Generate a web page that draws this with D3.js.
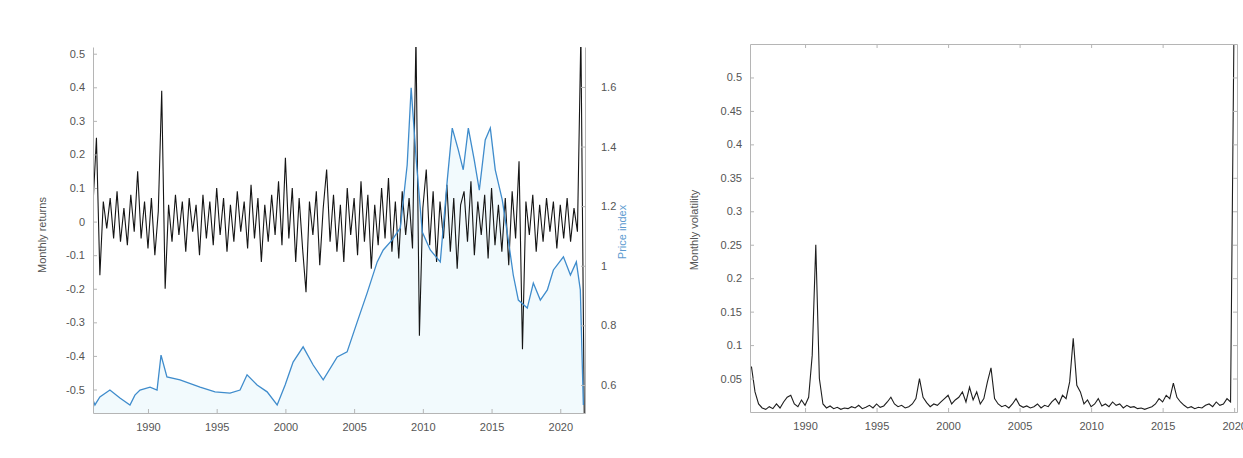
<!DOCTYPE html>
<html>
<head>
<meta charset="utf-8">
<script src="https://cdn.jsdelivr.net/npm/d3@7"></script>
<style>
  html, body { margin: 0; padding: 0; background: #fff; }
  svg { display: block; font-family: "Liberation Sans", Arial, sans-serif; }
  .tick text { fill: #555; font-size: 11px; }
  .axis path, .axis line { stroke: #b5b5b5; }
</style>
</head>
<body>
<svg id="chart" width="1243" height="458"></svg>
<script>
// ---- data ----

// left panel: quarterly returns, first quarter 1986.0
const retStart = 1986.0;
const retValues = [
  0.05, 0.25, -0.16, 0.06, -0.02, 0.07, -0.05, 0.09, -0.06, 0.04, -0.07, 0.08,
  -0.03, 0.15, -0.05, 0.06, -0.08, 0.07, -0.10, 0.03, 0.39, -0.20, 0.05, -0.06,
  0.08, -0.04, 0.06, -0.09, 0.07, -0.03, 0.05, -0.10, 0.08, -0.05, 0.06, -0.07,
  0.10, -0.04, 0.07, -0.09, 0.05, -0.06, 0.09, -0.03, 0.06, -0.08, 0.11, -0.05,
  0.07, -0.12, 0.05, -0.06, 0.08, -0.04, 0.12, -0.07, 0.19, -0.05, 0.10, -0.12,
  0.07, -0.08, -0.21, 0.06, -0.04, 0.09, -0.13, 0.04, 0.155, -0.06, 0.08, -0.09,
  0.05, -0.12, 0.10, -0.04, 0.07, -0.10, 0.12, -0.06, 0.08, -0.14, 0.05, -0.07,
  0.10, -0.05, 0.13, -0.09, 0.06, -0.11, 0.09, -0.04, 0.07, -0.08, 0.55, -0.34,
  0.04, 0.155, -0.07, 0.09, -0.12, 0.06, -0.05, 0.11, -0.09, 0.07, -0.14, 0.05,
  0.09, -0.06, 0.12, -0.10, 0.06, -0.04, 0.08, -0.11, 0.10, -0.07, 0.05, -0.09,
  0.07, -0.13, 0.09, -0.05, 0.18, -0.38, 0.06, -0.04, 0.08, -0.09, 0.05, -0.06,
  0.07, -0.03, 0.06, -0.08, 0.05, -0.05, 0.07, -0.06, 0.04, -0.03, 0.56, -0.60
];

// left panel, right axis: price level (year, value)
const priceYears = [
  1986.0, 1986.14, 1986.5, 1987.23, 1987.96, 1988.69, 1989.05, 1989.42, 1990.15, 1990.66,
  1990.95, 1991.38, 1992.33, 1993.79, 1994.88, 1995.97, 1996.7, 1997.21, 1997.94, 1998.67,
  1999.4, 1999.98, 2000.56, 2001.29, 2002.02, 2002.75, 2003.77, 2004.49, 2005.22, 2005.95,
  2006.68, 2007.12, 2007.77, 2008.36, 2008.86, 2009.15, 2009.52, 2009.96, 2010.54, 2011.27,
  2011.78, 2012.14, 2012.58, 2012.94, 2013.31, 2013.74, 2014.11, 2014.54, 2014.91, 2015.27,
  2015.78, 2016.22, 2016.58, 2016.95, 2017.6, 2018.04, 2018.55, 2019.06, 2019.5, 2020.23,
  2020.74, 2021.17, 2021.46, 2021.68
];
const priceValues = [
  0.55, 0.533, 0.56, 0.583, 0.556, 0.533, 0.566, 0.583, 0.593, 0.583,
  0.70, 0.627, 0.617, 0.593, 0.577, 0.573, 0.583, 0.634, 0.60, 0.577,
  0.533, 0.60, 0.677, 0.728, 0.667, 0.617, 0.694, 0.711, 0.811, 0.909,
  1.013, 1.053, 1.087, 1.127, 1.338, 1.597, 1.355, 1.113, 1.053, 1.013,
  1.288, 1.462, 1.389, 1.322, 1.462, 1.355, 1.254, 1.422, 1.462, 1.322,
  1.221, 1.087, 0.969, 0.885, 0.858, 0.942, 0.885, 0.919, 0.986, 1.03,
  0.969, 1.013, 0.919, 0.533
];

// right panel: quarterly volatility, first quarter 1986.25
const volStart = 1986.25;
const volValues = [
  0.068, 0.03, 0.012, 0.006, 0.004, 0.008, 0.005, 0.012, 0.006, 0.015, 0.022, 0.025,
  0.012, 0.008, 0.018, 0.010, 0.022, 0.085, 0.25, 0.05, 0.012, 0.006, 0.009, 0.005,
  0.007, 0.004, 0.006, 0.005, 0.008, 0.006, 0.01, 0.005, 0.007, 0.01, 0.006, 0.012,
  0.007, 0.009, 0.015, 0.022, 0.012, 0.008, 0.01, 0.006, 0.008, 0.012, 0.02, 0.05,
  0.022, 0.014, 0.008, 0.012, 0.01, 0.015, 0.02, 0.025, 0.012, 0.018, 0.022, 0.03,
  0.015, 0.037, 0.018, 0.03, 0.012, 0.02, 0.045, 0.066, 0.02, 0.012, 0.008, 0.01,
  0.006, 0.012, 0.02, 0.01, 0.007, 0.009, 0.006, 0.008, 0.012, 0.006, 0.01, 0.008,
  0.015, 0.02, 0.012, 0.025, 0.02, 0.045, 0.11, 0.04, 0.03, 0.012, 0.018, 0.008,
  0.012, 0.02, 0.009, 0.012, 0.008, 0.015, 0.01, 0.012, 0.006, 0.01, 0.007, 0.008,
  0.005, 0.006, 0.004, 0.006, 0.008, 0.012, 0.02, 0.015, 0.025, 0.02, 0.043, 0.022,
  0.015, 0.01, 0.006, 0.008, 0.005, 0.007, 0.006, 0.01, 0.012, 0.008, 0.015, 0.01,
  0.012, 0.02, 0.015, 0.6
];

const yearTicks = [1990, 1995, 2000, 2005, 2010, 2015, 2020];
const retTicks = [-0.5, -0.4, -0.3, -0.2, -0.1, 0, 0.1, 0.2, 0.3, 0.4, 0.5];
const priceTicks = [0.6, 0.8, 1, 1.2, 1.4, 1.6];
const volTicks = [0.05, 0.1, 0.15, 0.2, 0.25, 0.3, 0.35, 0.4, 0.45, 0.5];

const fmt = (d) => String(+d.toFixed(2));
const svg = d3.select("#chart");

// ---- left panel: returns (left axis) + price (right axis) ----
const L = { left: 93, right: 585, top: 47, bottom: 413 };
const xL = d3.scaleLinear().domain([1986.0, 2021.8]).range([L.left, L.right]);
const yRet = d3.scaleLinear().domain([-0.57, 0.52]).range([L.bottom, L.top]);
const yPrice = d3.scaleLinear().domain([0.506, 1.734]).range([L.bottom, L.top]);

svg.append("clipPath").attr("id", "clipL").append("rect")
  .attr("x", L.left).attr("y", L.top)
  .attr("width", L.right - L.left).attr("height", L.bottom - L.top);

const gL = svg.append("g").attr("clip-path", "url(#clipL)");

const price = priceYears.map((t, i) => [t, priceValues[i]]);
// very pale fill under the price line
gL.append("path")
  .datum(price)
  .attr("fill", "#f2fafd")
  .attr("d", d3.area().x((d) => xL(d[0])).y0(L.bottom).y1((d) => yPrice(d[1])));

const ret = retValues.map((v, i) => [retStart + i * 0.25, v]);
gL.append("path")
  .datum(ret)
  .attr("fill", "none")
  .attr("stroke", "#151515")
  .attr("stroke-width", 1.1)
  .attr("d", d3.line().x((d) => xL(d[0])).y((d) => yRet(d[1])));

gL.append("path")
  .datum(price)
  .attr("fill", "none")
  .attr("stroke", "#3f8ccc")
  .attr("stroke-width", 1.3)
  .attr("d", d3.line().x((d) => xL(d[0])).y((d) => yPrice(d[1])));

svg.append("g").attr("class", "axis")
  .attr("transform", `translate(${L.left},0)`)
  .call(d3.axisLeft(yRet).tickValues(retTicks).tickFormat(fmt).tickSizeInner(-4).tickSizeOuter(0).tickPadding(8));

svg.append("g").attr("class", "axis")
  .attr("transform", `translate(${L.right},0)`)
  .call(d3.axisRight(yPrice).tickValues(priceTicks).tickFormat(fmt).tickSizeInner(-4).tickSizeOuter(0).tickPadding(16));

svg.append("g").attr("class", "axis")
  .attr("transform", `translate(0,${L.bottom})`)
  .call(d3.axisBottom(xL).tickValues(yearTicks).tickFormat(d3.format("d")).tickSizeInner(-4).tickSizeOuter(0).tickPadding(10));

svg.append("text")
  .attr("transform", `translate(46,${(L.top + L.bottom) / 2 + 5}) rotate(-90)`)
  .attr("text-anchor", "middle")
  .attr("font-size", 11).attr("fill", "#555")
  .text("Monthly returns");

svg.append("text")
  .attr("transform", `translate(626,232) rotate(-90)`)
  .attr("text-anchor", "middle")
  .attr("font-size", 11).attr("fill", "#5d9bd0")
  .text("Price index");

// ---- right panel: volatility ----
const R = { left: 750, right: 1237, top: 44, bottom: 412 };
const xR = d3.scaleLinear().domain([1986.15, 2020.2]).range([R.left, R.right]);
const yVol = d3.scaleLinear().domain([0, 0.55]).range([R.bottom, R.top]);

svg.append("clipPath").attr("id", "clipR").append("rect")
  .attr("x", R.left).attr("y", R.top)
  .attr("width", R.right - R.left).attr("height", R.bottom - R.top);

const vol = volValues.map((v, i) => [volStart + i * 0.25, v]);
svg.append("g").attr("clip-path", "url(#clipR)")
  .append("path")
  .datum(vol)
  .attr("fill", "none")
  .attr("stroke", "#1e1e1e")
  .attr("stroke-width", 1.1)
  .attr("d", d3.line().x((d) => xR(d[0])).y((d) => yVol(d[1])));

// box with inward ticks on all four sides
svg.append("g").attr("class", "axis")
  .attr("transform", `translate(${R.left},0)`)
  .call(d3.axisLeft(yVol).tickValues(volTicks).tickFormat(fmt).tickSizeInner(-4).tickSizeOuter(0).tickPadding(8));
svg.append("g").attr("class", "axis")
  .attr("transform", `translate(${R.right},0)`)
  .call(d3.axisRight(yVol).tickValues(volTicks).tickFormat("").tickSizeInner(-4).tickSizeOuter(0));
svg.append("g").attr("class", "axis")
  .attr("transform", `translate(0,${R.bottom})`)
  .call(d3.axisBottom(xR).tickValues(yearTicks).tickFormat(d3.format("d")).tickSizeInner(-4).tickSizeOuter(0).tickPadding(10));
svg.append("g").attr("class", "axis")
  .attr("transform", `translate(0,${R.top})`)
  .call(d3.axisTop(xR).tickValues(yearTicks).tickFormat("").tickSizeInner(-4).tickSizeOuter(0));

svg.append("text")
  .attr("transform", `translate(698,${(R.top + R.bottom) / 2 + 2}) rotate(-90)`)
  .attr("text-anchor", "middle")
  .attr("font-size", 11).attr("fill", "#555")
  .text("Monthly volatility");
</script>
</body>
</html>
